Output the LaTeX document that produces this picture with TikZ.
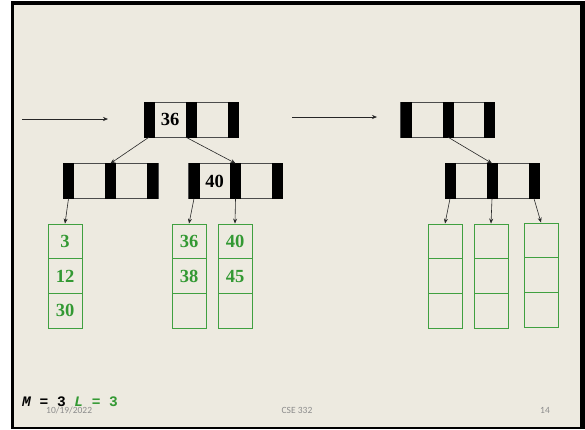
\documentclass[tikz,border=0pt]{standalone}
\usepackage{fontspec}
\setmainfont{Liberation Serif}
\newfontfamily\keymono{Liberation Mono}
\newfontfamily\slidefoot{Carlito}
\usetikzlibrary{arrows.meta}
\definecolor{paper}{RGB}{237,234,224}
\definecolor{leafgreen}{RGB}{64,160,64}
\definecolor{keygreen}{RGB}{51,153,51}
\definecolor{footgray}{RGB}{140,140,140}

\begin{document}
\begin{tikzpicture}[x=1pt,y=-1pt,
  box/.style={draw=black!70, line width=0.8pt, minimum width=#1, minimum height=35pt, inner sep=0pt},
  bar/.style={fill=black, draw=black, line width=0.3pt, minimum width=10pt, minimum height=35pt, inner sep=0pt},
  cell/.style={draw=leafgreen, line width=0.8pt, minimum width=34pt, minimum height=34.7pt, inner sep=0pt,
    text=keygreen, font=\bfseries\fontsize{18.5}{18.5}\selectfont},
  key/.style={font=\bfseries\fontsize{18.5}{18.5}\selectfont, inner sep=0pt},
  ptr/.style={draw=black!85, line width=0.6pt, -{Stealth[length=5pt,width=4pt]}},
]
\useasboundingbox (0,0) rectangle (585,429);
% slide frame
\fill[white] (0,0) rectangle (585,429);
\fill[black] (11,1) rectangle (585,429);
\fill[paper] (14,5) rectangle (580,427);

% left tree: root
\node[box=94pt] (r) at (191,119.5) {};
\node[bar] (r0) at (149,119.5) {};
\node[bar] (r1) at (191,119.5) {};
\node[bar] (r2) at (233,119.5) {};
\node[key] (k36) at (170,119.5) {36};

% left tree: internal children
\node[box=95pt] (a) at (110.5,181) {};
\node[bar] (a0) at (68.5,181) {};
\node[bar] (a1) at (110.5,181) {};
\node[bar] (a2) at (152.5,181) {};

\node[box=94pt] (b) at (235.5,181) {};
\node[bar] (b0) at (194,181) {};
\node[bar] (b1) at (235.5,181) {};
\node[bar] (b2) at (277,181) {};
\node[key] (k40) at (214.5,181) {40};

% left tree: leaves
\node[cell] (l1a) at (65,241.3) {3};
\node[cell] (l1b) at (65,276) {12};
\node[cell] (l1c) at (65,310.7) {30};
\node[cell] (l2a) at (189,241.3) {36};
\node[cell] (l2b) at (189,276) {38};
\node[cell] (l2c) at (189,310.7) {};
\node[cell] (l3a) at (235,241.3) {40};
\node[cell] (l3b) at (235,276) {45};
\node[cell] (l3c) at (235,310.7) {};

% right tree
\node[box=94pt] (c) at (447.5,119.5) {};
\node[bar] (c0) at (406,119.5) {};
\node[bar] (c1) at (448,119.5) {};
\node[bar] (c2) at (489,119.5) {};

\node[box=94pt] (d) at (492,181) {};
\node[bar] (d0) at (450,181) {};
\node[bar] (d1) at (492,181) {};
\node[bar] (d2) at (534,181) {};

\node[cell] (m1a) at (445,241.3) {};
\node[cell] (m1b) at (445,276) {};
\node[cell] (m1c) at (445,310.7) {};
\node[cell] (m2a) at (491,241.3) {};
\node[cell] (m2b) at (491,276) {};
\node[cell] (m2c) at (491,310.7) {};
\node[cell] (m3a) at (541,240.3) {};
\node[cell] (m3b) at (541,275) {};
\node[cell] (m3c) at (541,309.7) {};

% pointers
\draw[ptr] (r0.south) -- (a1.north);
\draw[ptr] (r1.south west) -- (b1.north);
\draw[ptr] (a0.south) -- (l1a.north);
\draw[ptr] (b0.south) -- (l2a.north);
\draw[ptr] (b1.south) -- (l3a.north);
\draw[ptr] (c1.south) -- (d1.north);
\draw[ptr] (d0.south) -- (m1a.north);
\draw[ptr] (d1.south) -- (m2a.north);
\draw[ptr] (d2.south) -- (m3a.north);

% arrows into the roots
\coordinate (in1s) at (22,119);
\coordinate (in1e) at (108,119);
\coordinate (in2s) at (292,117);
\coordinate (in2e) at (377,117);
\draw[ptr] (in1s) -- (in1e);
\draw[ptr] (in2s) -- (in2e);

% parameters and slide footer
\node[anchor=base west, inner sep=0pt, font=\keymono\bfseries\fontsize{14.5}{14.5}\selectfont] (ml)
  at (22,406) {{\itshape M} = 3 \textcolor{keygreen}{{\itshape L} = 3}};
\node[anchor=base west, inner sep=0pt, text=footgray, font=\slidefoot\fontsize{9.5}{9.5}\selectfont] (date)
  at (46,413) {10/19/2022};
\node[anchor=base, inner sep=0pt, text=footgray, font=\slidefoot\fontsize{9.5}{9.5}\selectfont] (course)
  at (297,413) {CSE 332};
\node[anchor=base, inner sep=0pt, text=footgray, font=\slidefoot\fontsize{9.5}{9.5}\selectfont] (page)
  at (545,413) {14};
\end{tikzpicture}
\end{document}
